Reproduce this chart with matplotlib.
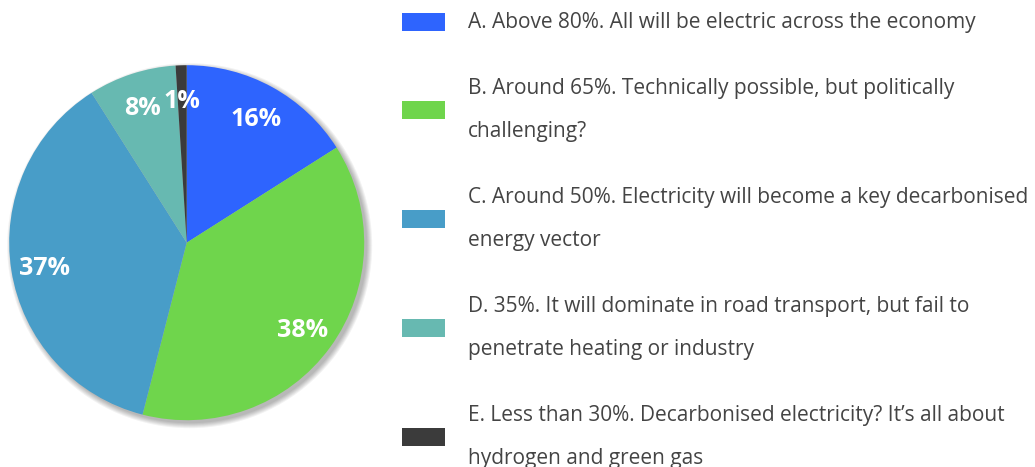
import matplotlib
matplotlib.use("Agg")

import matplotlib.pyplot as plt
import numpy as np
from matplotlib.patches import Circle, Rectangle

# survey answers, clockwise from 12 o'clock
options = [
    "A. Above 80%. All will be electric across the economy",
    "B. Around 65%. Technically possible, but politically\nchallenging?",
    "C. Around 50%. Electricity will become a key decarbonised\nenergy vector",
    "D. 35%. It will dominate in road transport, but fail to\npenetrate heating or industry",
    "E. Less than 30%. Decarbonised electricity? It\u2019s all about\nhydrogen and green gas",
]
shares = [16, 38, 37, 8, 1]
colors = ["#2E64FE", "#6FD54C", "#489DC8", "#67B9B1", "#3B3B3B"]

W, H = 1035, 467
fig = plt.figure(figsize=(W / 100, H / 100), dpi=100)
ax = fig.add_axes([0, 0, 1, 1])

cx, cy, r = 186.7, H - 242.7, 177.5

# soft drop shadow
for grow in np.linspace(5, 0, 6):
    ax.add_patch(Circle((cx + 3, cy - 3), r + grow, color="black", alpha=0.05, lw=0))

wedges, texts = ax.pie(
    shares, colors=colors, startangle=90, counterclock=False,
    center=(cx, cy), radius=r,
    labels=[f"{v}%" for v in shares], labeldistance=0.81,
    textprops=dict(color="white", fontsize=18, fontweight="bold", family="Open Sans"),
    wedgeprops=dict(linewidth=0),
)
for t in texts:
    t.set_ha("center")
    t.set_va("center_baseline")

# legend, drawn by hand
text_x = 468
box_x, box_w, box_h = 402, 43, 18
baseline = 28
for label, col in zip(options, colors):
    lines = label.split("\n")
    ys = [baseline + i * 43 for i in range(len(lines))]
    for line, y in zip(lines, ys):
        ax.text(text_x, H - y, line, fontsize=15, color="#444444",
                family="Open Sans", ha="left", va="baseline")
    mid = np.mean(ys) - 6
    ax.add_patch(Rectangle((box_x, H - mid - box_h / 2), box_w, box_h, color=col, lw=0))
    baseline = ys[-1] + 66

ax.set_xlim(0, W)
ax.set_ylim(0, H)
ax.axis("off")

fig.savefig("out.png", dpi=100)
